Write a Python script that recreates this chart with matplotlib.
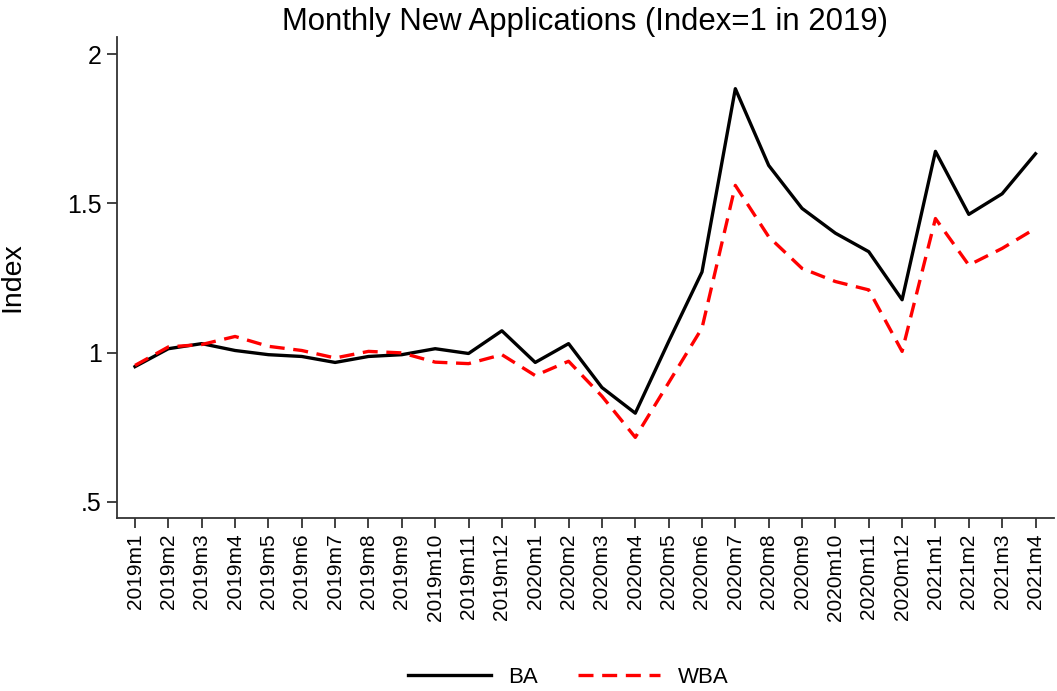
"""Monthly new applications index, BA vs WBA."""

import matplotlib

matplotlib.use("Agg")
import matplotlib.pyplot as plt
import numpy as np

plt.rcParams["font.family"] = ["Liberation Sans", "DejaVu Sans"]

months = [
    "2019m1", "2019m2", "2019m3", "2019m4", "2019m5", "2019m6", "2019m7",
    "2019m8", "2019m9", "2019m10", "2019m11", "2019m12",
    "2020m1", "2020m2", "2020m3", "2020m4", "2020m5", "2020m6", "2020m7",
    "2020m8", "2020m9", "2020m10", "2020m11", "2020m12",
    "2021m1", "2021m2", "2021m3", "2021m4",
]
ba = [
    0.953, 1.013, 1.030, 1.007, 0.993, 0.987, 0.967, 0.987, 0.993, 1.013,
    0.997, 1.073, 0.967, 1.030, 0.883, 0.797, 1.037, 1.270, 1.884, 1.627,
    1.483, 1.400, 1.338, 1.177, 1.674, 1.463, 1.532, 1.666,
]
wba = [
    0.957, 1.019, 1.027, 1.054, 1.021, 1.007, 0.982, 1.004, 0.999, 0.968,
    0.963, 0.993, 0.923, 0.971, 0.854, 0.716, 0.899, 1.082, 1.560, 1.388,
    1.282, 1.238, 1.210, 1.004, 1.449, 1.293, 1.349, 1.416,
]
y_ticks = [0.5, 1.0, 1.5, 2.0]
y_labels = [".5", "1", "1.5", "2"]

x = np.arange(len(months))

fig = plt.figure(figsize=(10.57, 6.91), dpi=100)
ax = fig.add_axes([0.1107, 0.2504, 0.886, 0.696])

ax.plot(x, ba, color="black", lw=2.4, label="BA")
ax.plot(x, wba, color="#ff0000", lw=2.4, ls=(0, (4.5, 2.6)), label="WBA")

ax.set_xlim(-0.54, 27.54)
ax.set_ylim(0.446, 2.057)
ax.set_xticks(x)
ax.set_xticklabels(months, rotation=90, fontsize=15)
ax.set_yticks(y_ticks)
ax.set_yticklabels(y_labels, fontsize=18)
ax.tick_params(axis="both", direction="out", length=7, width=1.3, color="#333333", pad=4)

for side in ["top", "right"]:
    ax.spines[side].set_visible(False)
for side in ["left", "bottom"]:
    ax.spines[side].set_linewidth(1.3)
    ax.spines[side].set_color("#333333")

ax.set_ylabel("Index", fontsize=20.5, labelpad=30)
ax.set_title("Monthly New Applications (Index=1 in 2019)", fontsize=22.4, pad=2)

fig.legend(
    loc="center",
    bbox_to_anchor=(0.538, 0.02),
    ncol=2,
    frameon=False,
    fontsize=16,
    handlelength=3.7,
    handletextpad=0.8,
    columnspacing=1.8,
)

fig.savefig("out.png", dpi=100)
